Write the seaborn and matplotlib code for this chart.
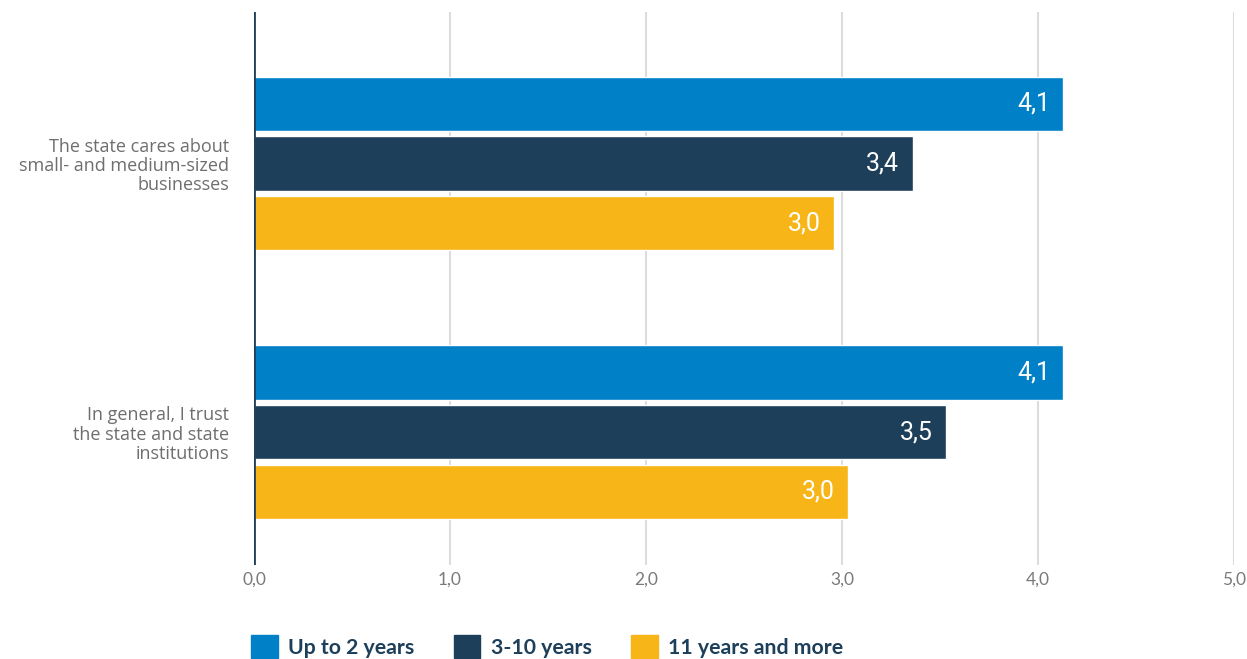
import matplotlib
matplotlib.use("Agg")
import matplotlib.pyplot as plt
import matplotlib.patches as mpatches
import seaborn as sns
import pandas as pd

statements = [
    "The state cares about\nsmall- and medium-sized\nbusinesses",
    "In general, I trust\nthe state and state\ninstitutions",
]
groups = ["Up to 2 years", "3-10 years", "11 years and more"]
up_to_2 = [4.13, 4.13]
y3_10 = [3.36, 3.53]
y11_plus = [2.96, 3.03]
ticks = [0, 1, 2, 3, 4, 5]
tick_labels = ["0,0", "1,0", "2,0", "3,0", "4,0", "5,0"]
colors = ["#0080C6", "#1D3F5A", "#F7B518"]

rows = []
for series, vals in zip(groups, [up_to_2, y3_10, y11_plus]):
    for stmt, v in zip(statements, vals):
        rows.append({"statement": stmt, "group": series, "score": v})
df = pd.DataFrame(rows)

sns.set_style("white")
plt.rcParams["font.family"] = ["Lato", "DejaVu Sans"]

fig = plt.figure(figsize=(12.47, 6.59), dpi=100)
ax = fig.add_axes([254 / 1247, 1 - 565 / 659, (1234 - 254) / 1247, (565 - 12) / 659])

sns.barplot(data=df, y="statement", x="score", hue="group", orient="h",
            palette=colors, order=statements, hue_order=groups,
            width=0.665, gap=0.09, saturation=1, legend=False, ax=ax, zorder=3)

ax.set_xlim(0, 5)
ax.set_ylim(1.495, -0.564)
ax.set_xticks(ticks)
ax.set_xticklabels(tick_labels)
ax.grid(axis="x", color="#dcdcdc", linewidth=1.5, zorder=0)
ax.grid(axis="y", visible=False)
for s in ax.spines.values():
    s.set_visible(False)
ax.axvline(0, color="#1D3F5A", linewidth=2, zorder=4)
ax.tick_params(axis="x", length=0, pad=5, labelsize=12.5, labelcolor="#7a7a7a")
ax.tick_params(axis="y", length=0, pad=18, labelsize=13, labelcolor="#6e6e6e")
for lbl in ax.get_yticklabels():
    lbl.set_family(["Open Sans", "DejaVu Sans"])
    lbl.set_fontsize(13)
    lbl.set_linespacing(1.08)
ax.set_xlabel("")
ax.set_ylabel("")

# value labels inside the end of each bar
for container in ax.containers:
    for bar in container:
        w = bar.get_width()
        yc = bar.get_y() + bar.get_height() / 2
        ax.annotate(f"{w:.1f}".replace(".", ","), (w, yc),
                    xytext=(-9.5, 0), textcoords="offset points",
                    ha="right", va="center", color="white",
                    fontsize=18, family=["Roboto", "DejaVu Sans"], zorder=5)

handles = [mpatches.Patch(color=c, label=g) for c, g in zip(colors, groups)]
leg = fig.legend(handles=handles, loc="lower left", ncol=3,
                 bbox_to_anchor=(250 / 1247, 0.0), frameon=False,
                 handlelength=1.25, handleheight=1.25, handletextpad=0.5,
                 columnspacing=1.85, borderaxespad=0.0, borderpad=0.05,
                 prop={"size": 15.3, "weight": "bold"})
for t in leg.get_texts():
    t.set_color("#1D3F5A")

fig.savefig("out.png", dpi=100, facecolor="white")
